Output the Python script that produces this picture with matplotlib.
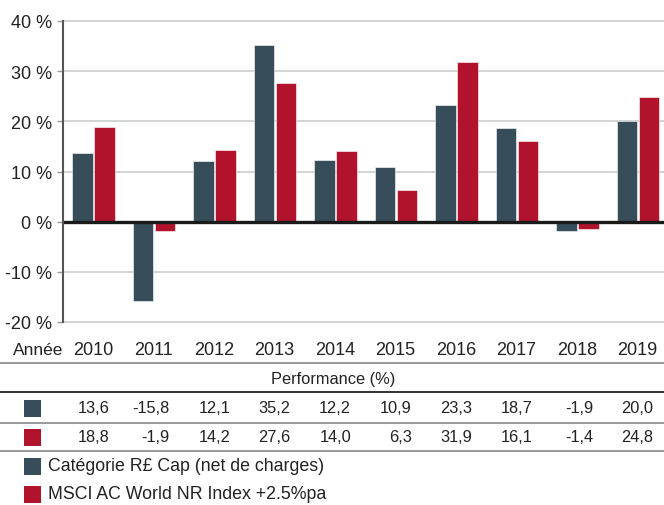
import matplotlib
matplotlib.use("Agg")
import matplotlib.pyplot as plt
from matplotlib.lines import Line2D
from matplotlib.patches import Rectangle

years = ["2010", "2011", "2012", "2013", "2014", "2015", "2016", "2017", "2018", "2019"]
fund = [13.6, -15.8, 12.1, 35.2, 12.2, 10.9, 23.3, 18.7, -1.9, 20.0]
index = [18.8, -1.9, 14.2, 27.6, 14.0, 6.3, 31.9, 16.1, -1.4, 24.8]
series_names = ["Catégorie R£ Cap (net de charges)", "MSCI AC World NR Index +2.5%pa"]
yticks = [-20, -10, 0, 10, 20, 30, 40]
row_header = "Année"
table_title = "Performance (%)"

DARK = "#374d5a"
RED = "#b0132b"

plt.rcParams['font.family'] = ['Liberation Sans', 'DejaVu Sans']

W, H = 664, 506
fig = plt.figure(figsize=(W / 100, H / 100), dpi=100)

def fy(py):
    return 1 - py / H

def fx(px):
    return px / W

ax_left, ax_right, ax_top, ax_bot = 63, 664, 22, 323
ax = fig.add_axes([fx(ax_left), fy(ax_bot), fx(ax_right) - fx(ax_left), (ax_bot - ax_top) / H])

x = list(range(len(years)))
bw = 0.34
ax.bar([i - 0.175 for i in x], fund, width=bw, color=DARK, edgecolor="white", linewidth=0.4, zorder=3)
ax.bar([i + 0.19 for i in x], index, width=bw, color=RED, edgecolor="white", linewidth=0.4, zorder=3)

ax.set_xlim(-0.5, 9.44)
ax.set_ylim(-20, 40)
ax.set_yticks(yticks)
ax.set_yticklabels([f"{v} %" for v in yticks], fontsize=13, color="#222222")
ax.set_xticks([])
for v in yticks:
    if v != 0:
        ax.axhline(v, color="#cccccc", linewidth=1.2, zorder=1, clip_on=False)
ax.axhline(0, color="#1a1a1a", linewidth=2.4, zorder=4)
for s in ["top", "right", "bottom"]:
    ax.spines[s].set_visible(False)
ax.spines["left"].set_color("#555555")
ax.spines["left"].set_linewidth(1.5)
ax.spines["left"].set_zorder(5)
ax.tick_params(axis="y", length=4, width=1, color="#999999", pad=4)

# category centre in pixels
def cx(i):
    x0, x1 = ax.get_xlim()
    return ax_left + (i - x0) / (x1 - x0) * (ax_right - ax_left)

# table
fig.text(fx(13), fy(351), row_header, fontsize=12.5, ha="left", va="center", color="#222222")
for i, yr in enumerate(years):
    fig.text(fx(cx(i)), fy(351), yr, fontsize=13, ha="center", va="center", color="#222222")

def hline(py, color, lw):
    fig.add_artist(Line2D([0, 1], [fy(py), fy(py)], transform=fig.transFigure, color=color, linewidth=lw))

hline(364, "#888888", 1.2)
fig.text(fx(333), fy(380), table_title, fontsize=11.8, ha="center", va="center", color="#222222")
hline(393, "#222222", 1.3)
for i, v in enumerate(fund):
    fig.text(fx(cx(i) + 16), fy(409), f"{v:.1f}".replace(".", ","), fontsize=11.8, ha="right", va="center", color="#222222")
hline(424, "#888888", 1.2)
for i, v in enumerate(index):
    fig.text(fx(cx(i) + 16), fy(438), f"{v:.1f}".replace(".", ","), fontsize=11.8, ha="right", va="center", color="#222222")
hline(452, "#888888", 1.2)

def square(px, py, color):
    fig.add_artist(Rectangle((fx(px), fy(py + 9)), 17 / W, 17 / H, transform=fig.transFigure,
                             facecolor=color, edgecolor="none"))

square(24, 409, DARK)
square(24, 438, RED)
square(24, 467, DARK)
square(24, 495, RED)
fig.text(fx(48), fy(467), series_names[0], fontsize=12.8, ha="left", va="center", color="#222222")
fig.text(fx(48), fy(495), series_names[1], fontsize=12.8, ha="left", va="center", color="#222222")

fig.savefig("out.png", dpi=100)
